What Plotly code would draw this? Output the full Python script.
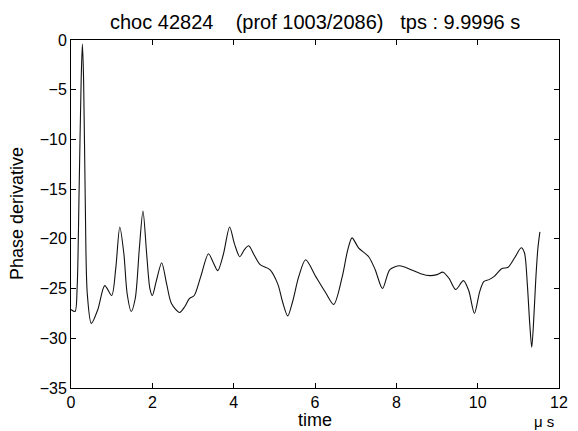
import plotly.graph_objects as go

time_us = [0.00, 0.10, 0.15, 0.20, 0.25, 0.28, 0.31, 0.35, 0.40, 0.50, 0.66, 0.83, 1.00, 1.10, 1.20,
           1.30, 1.38, 1.48, 1.58, 1.68, 1.77, 1.86, 1.94, 2.00, 2.10, 2.23, 2.35, 2.47, 2.67, 2.80,
           2.91, 3.03, 3.19, 3.38, 3.50, 3.61, 3.75, 3.90, 4.02, 4.15, 4.26, 4.37, 4.50, 4.65, 4.89,
           5.09, 5.20, 5.33, 5.45, 5.60, 5.77, 6.02, 6.26, 6.46, 6.67, 6.80, 6.91, 7.07, 7.32, 7.48,
           7.66, 7.84, 8.08, 8.36, 8.60, 8.83, 9.00, 9.15, 9.30, 9.46, 9.65, 9.78, 9.92, 10.05, 10.15,
           10.28, 10.40, 10.59, 10.75, 10.91, 11.07, 11.15, 11.22, 11.28, 11.33, 11.38, 11.43, 11.48, 11.53]
phase_deriv = [-27.1, -27.3, -25.0, -15.0, -4.0, -0.4, -4.0, -16.0, -25.5, -28.5, -27.1, -24.7, -25.7, -23.0, -18.8,
               -21.5, -25.5, -27.3, -26.0, -21.0, -17.2, -21.5, -25.0, -25.7, -24.2, -22.4, -24.5, -26.5, -27.4, -26.8,
               -26.0, -25.7, -23.8, -21.5, -22.4, -23.2, -21.5, -18.8, -20.5, -21.8, -21.1, -20.7, -21.6, -22.6, -23.1,
               -24.6, -26.3, -27.75, -26.3, -23.8, -22.1, -23.8, -25.4, -26.6, -23.8, -21.2, -19.9, -20.9, -21.8, -23.1,
               -25.0, -23.1, -22.7, -23.1, -23.5, -23.7, -23.6, -23.35, -24.0, -25.1, -24.2, -25.2, -27.5, -25.3, -24.3,
               -24.1, -23.8, -23.0, -22.85, -21.9, -20.9, -21.4, -24.5, -28.5, -30.9, -28.0, -24.0, -21.0, -19.3]

x_ticks = [0, 2, 4, 6, 8, 10, 12]
y_ticks = [0, -5, -10, -15, -20, -25, -30, -35]

title_text = "choc 42824\u00a0\u00a0\u00a0\u00a0(prof 1003/2086)\u00a0\u00a0\u00a0tps : 9.9996 s"
x_label = "time"
x_unit = "\u03bc s"
y_label = "Phase\u00a0derivative"

FONT = "Liberation Sans, Arial, Helvetica, sans-serif"

fig = go.Figure()
fig.add_trace(go.Scatter(x=time_us, y=phase_deriv, mode="lines",
                         line=dict(color="#111111", width=1.1, shape="spline", smoothing=0.8),
                         showlegend=False, hoverinfo="skip"))

axis_common = dict(showline=True, linecolor="black", linewidth=1, mirror="ticks",
                   ticks="inside", ticklen=5, tickcolor="black", tickwidth=1,
                   showgrid=False, zeroline=False,
                   tickfont=dict(family=FONT, size=16, color="black"))

fig.update_layout(
    width=578, height=431,
    margin=dict(l=71, r=10, t=40, b=43),
    paper_bgcolor="white", plot_bgcolor="white",
    font=dict(family=FONT, size=16, color="black"),
    xaxis=dict(range=[0, 12], tickvals=x_ticks, **axis_common),
    yaxis=dict(range=[-35, 0], tickvals=y_ticks, **axis_common),
    annotations=[
        dict(text=title_text, xref="paper", yref="paper", x=0.5, y=1, yshift=18,
             xanchor="center", yanchor="middle", showarrow=False,
             font=dict(family=FONT, size=20, color="black")),
        dict(text=x_label, xref="paper", yref="paper", x=0.5, y=0, yshift=-32,
             xanchor="center", yanchor="middle", showarrow=False, borderpad=0,
             font=dict(family=FONT, size=18, color="black")),
        dict(text=x_unit, xref="paper", yref="paper", x=1, y=0, xshift=-15, yshift=-33,
             xanchor="center", yanchor="middle", showarrow=False, borderpad=0,
             font=dict(family=FONT, size=15, color="black")),
        dict(text=y_label, xref="paper", yref="paper", x=0, y=0.5, xshift=-54,
             xanchor="center", yanchor="middle", textangle=-90, showarrow=False,
             font=dict(family=FONT, size=18, color="black")),
    ],
)

fig.write_html("out.html")
